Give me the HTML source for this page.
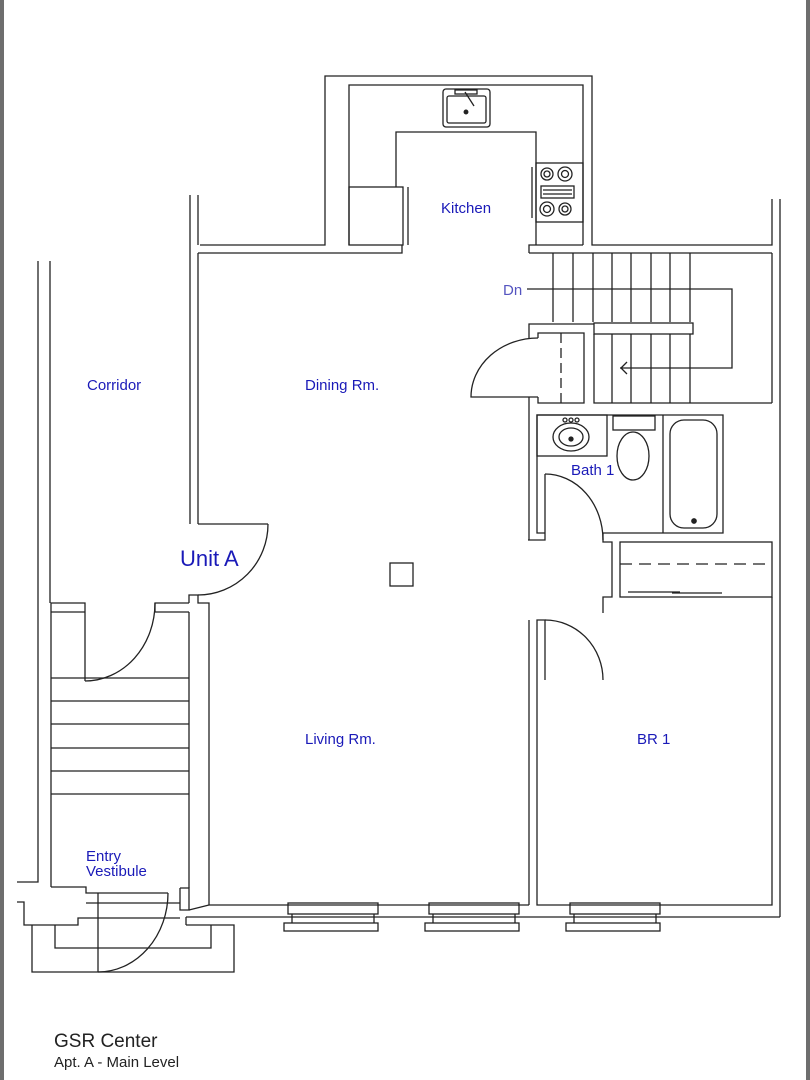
<!DOCTYPE html>
<html><head><style>
html,body{margin:0;padding:0;background:#fff;}
body{width:810px;height:1080px;overflow:hidden;position:relative;}
.bl{position:absolute;top:0;bottom:0;left:0;width:4px;background:#6e6e6e;}
.br{position:absolute;top:0;bottom:0;right:0;width:4px;background:#6e6e6e;}
svg{position:absolute;left:0;top:0;}
text{font-family:"Liberation Sans",sans-serif;}
</style></head><body>
<div class="bl"></div><div class="br"></div>
<svg width="810" height="1080" viewBox="0 0 810 1080" fill="none" stroke="#222" stroke-width="1.3">
<polyline points="200,245 325,245 325,76 592,76 592,245 772,245 772,199"/>
<polyline points="190,195 190,524"/>
<polyline points="198,195 198,245"/>
<polyline points="198,253 402,253 402,245"/>
<polyline points="349,245 349,85 583,85 583,245"/>
<polyline points="396,187 396,132 536,132 536,245"/>
<rect x="349" y="187" width="54" height="58"/>
<line x1="408" y1="187" x2="408" y2="245"/>
<rect x="443" y="89" width="47" height="38" rx="3"/>
<rect x="447" y="96" width="39" height="27" rx="2"/>
<rect x="455" y="90" width="22" height="4"/>
<line x1="465" y1="92" x2="474" y2="106"/>
<circle cx="466" cy="112" r="1.8" fill="#222"/>
<rect x="536" y="163" width="47" height="59"/>
<line x1="532" y1="167" x2="532" y2="218"/>
<circle cx="547" cy="174" r="6"/><circle cx="547" cy="174" r="3"/>
<circle cx="565" cy="174" r="7"/><circle cx="565" cy="174" r="3.5"/>
<circle cx="547" cy="209" r="7"/><circle cx="547" cy="209" r="3.5"/>
<circle cx="565" cy="209" r="6"/><circle cx="565" cy="209" r="3"/>
<rect x="541" y="186" width="33" height="12"/>
<line x1="543" y1="190" x2="572" y2="190"/><line x1="543" y1="194" x2="572" y2="194"/>
<polyline points="529,253 529,245 583,245"/>
<line x1="529" y1="253" x2="772" y2="253"/>
<line x1="772" y1="253" x2="772" y2="403"/>
<g>
<line x1="553" y1="253" x2="553" y2="322"/><line x1="573" y1="253" x2="573" y2="322"/>
<line x1="593" y1="253" x2="593" y2="322"/><line x1="612" y1="253" x2="612" y2="322"/>
<line x1="631" y1="253" x2="631" y2="322"/><line x1="651" y1="253" x2="651" y2="322"/>
<line x1="670" y1="253" x2="670" y2="322"/><line x1="690" y1="253" x2="690" y2="322"/>
<line x1="612" y1="334" x2="612" y2="403"/><line x1="631" y1="334" x2="631" y2="403"/>
<line x1="651" y1="334" x2="651" y2="403"/><line x1="670" y1="334" x2="670" y2="403"/>
<line x1="690" y1="334" x2="690" y2="403"/>
</g>
<rect x="594" y="323" width="99" height="11"/>
<polyline points="594,334 594,403 772,403"/>
<polyline points="527,289 732,289 732,368 620,368"/>
<polyline points="627,362 621,368 627,374"/>
<polyline points="529,338 529,324 594,324"/>
<polyline points="538,338 538,333 584,333 584,403 538,403 538,397"/>
<line x1="561" y1="333" x2="561" y2="403" stroke-dasharray="10,5"/>
<path d="M538,338 A67,59 0 0 0 471,397 L538,397"/>
<line x1="529" y1="397" x2="529" y2="540"/>
<polyline points="545,533 537,533 537,415 723,415 723,533 603,533"/>
<rect x="537" y="415" width="70" height="41"/>
<ellipse cx="571" cy="437" rx="18" ry="14"/><ellipse cx="571" cy="437" rx="12" ry="9"/>
<circle cx="571" cy="439" r="2" fill="#222"/>
<circle cx="565" cy="420" r="2"/><circle cx="571" cy="420" r="2"/><circle cx="577" cy="420" r="2"/>
<rect x="613" y="416" width="42" height="14"/>
<ellipse cx="633" cy="456" rx="16" ry="24"/>
<line x1="663" y1="415" x2="663" y2="533"/>
<rect x="670" y="420" width="47" height="108" rx="14"/>
<circle cx="694" cy="521" r="2.2" fill="#222"/>
<polyline points="528,540 545,540 545,474"/>
<path d="M545,474 A58,66 0 0 1 603,540"/>
<polyline points="603,533 603,542 612,542 612,597 603,597 603,613"/>
<rect x="620" y="542" width="152" height="55"/>
<line x1="620" y1="564" x2="772" y2="564" stroke-dasharray="12,7"/>
<line x1="628" y1="592" x2="680" y2="592"/><line x1="672" y1="593" x2="722" y2="593"/>
<polyline points="529,620 529,905"/>
<polyline points="545,680 545,620 537,620 537,905 772,905 772,597"/>
<path d="M545,620 A58,60 0 0 1 603,680"/>
<line x1="780" y1="199" x2="780" y2="917"/>
<polyline points="198,524 268,524"/>
<line x1="198" y1="253" x2="198" y2="524"/>
<path d="M268,524 A70,71 0 0 1 198,595"/>
<polyline points="189,603 189,595 198,595 198,603 209,603 209,905"/>
<rect x="390" y="563" width="23" height="23"/>
<polyline points="209,905 529,905"/>
<polyline points="186,917 780,917"/>
<g>
<rect x="288" y="903" width="90" height="11"/><rect x="284" y="923" width="94" height="8"/>
<line x1="292" y1="914" x2="292" y2="923"/><line x1="374" y1="914" x2="374" y2="923"/>
<rect x="429" y="903" width="90" height="11"/><rect x="425" y="923" width="94" height="8"/>
<line x1="433" y1="914" x2="433" y2="923"/><line x1="515" y1="914" x2="515" y2="923"/>
<rect x="570" y="903" width="90" height="11"/><rect x="566" y="923" width="94" height="8"/>
<line x1="574" y1="914" x2="574" y2="923"/><line x1="656" y1="914" x2="656" y2="923"/>
</g>
<polyline points="38,261 38,882 17,882"/>
<line x1="50" y1="261" x2="50" y2="603"/>
<polyline points="51,887 51,603 85,603 85,681"/>
<line x1="51" y1="612" x2="85" y2="612"/>
<path d="M85,681 A70,78 0 0 0 155,603"/>
<polyline points="155,612 155,603 189,603"/>
<line x1="155" y1="612" x2="189" y2="612"/>
<line x1="189" y1="612" x2="189" y2="888"/>
<g>
<line x1="51" y1="678" x2="189" y2="678"/><line x1="51" y1="701" x2="189" y2="701"/>
<line x1="51" y1="724" x2="189" y2="724"/><line x1="51" y1="748" x2="189" y2="748"/>
<line x1="51" y1="771" x2="189" y2="771"/><line x1="51" y1="794" x2="189" y2="794"/>
</g>
<polyline points="51,887 86,887 86,893 168,893"/>
<polyline points="180,888 189,888 189,910 180,910 180,888"/>
<line x1="86" y1="903" x2="180" y2="903"/>
<polyline points="17,902 24,902 24,925 78,925 78,918 180,918"/>
<line x1="189" y1="910" x2="209" y2="905"/>
<line x1="186" y1="917" x2="186" y2="925"/>
<polyline points="32,925 32,972 234,972 234,925 186,925"/>
<polyline points="55,925 55,948 211,948 211,925"/>
<polyline points="98,893 98,972"/>
<path d="M98,972 A70,79 0 0 0 168,893"/>
</svg>
<svg width="810" height="1080" style="pointer-events:none">
<g fill="#1a1ab8" font-size="15">
<text x="441" y="213">Kitchen</text>
<text x="87" y="390">Corridor</text>
<text x="305" y="390">Dining Rm.</text>
<text x="571" y="475">Bath 1</text>
<text x="180" y="566" font-size="22">Unit A</text>
<text x="305" y="744">Living Rm.</text>
<text x="637" y="744">BR 1</text>
<text x="86" y="861">Entry</text>
<text x="86" y="876">Vestibule</text>
</g>
<text x="503" y="295" fill="#5555c0" font-size="15">Dn</text>
<text x="54" y="1047" fill="#222" font-size="19">GSR Center</text>
<text x="54" y="1067" fill="#222" font-size="15">Apt. A - Main Level</text>
</svg>
</body></html>
